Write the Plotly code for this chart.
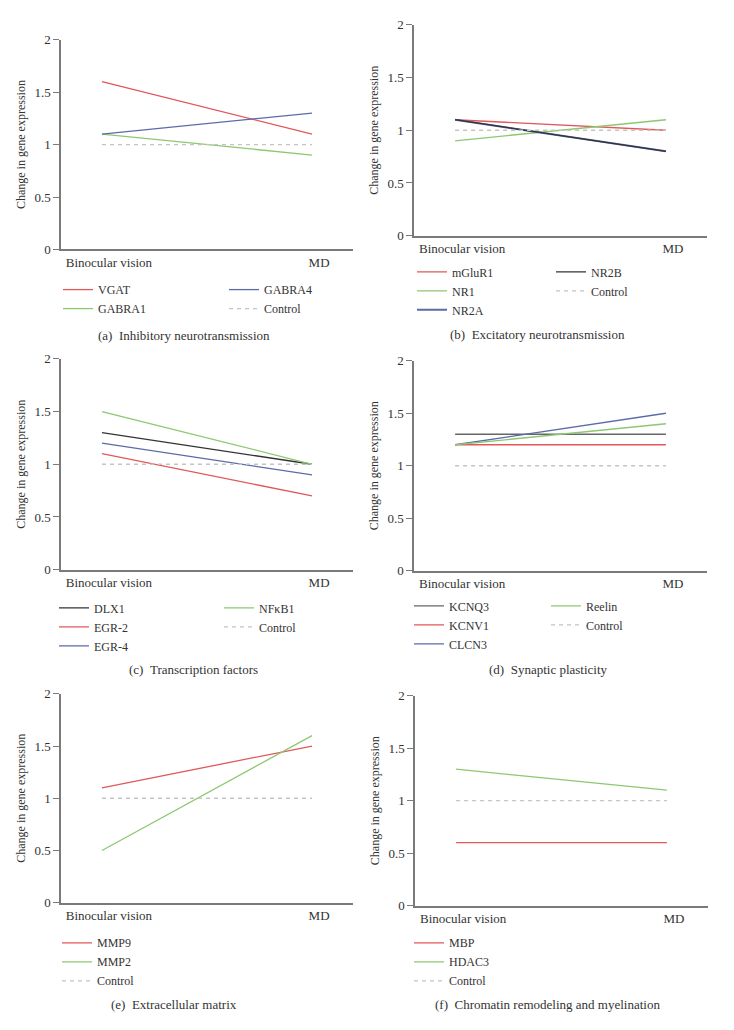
import plotly.graph_objects as go

# page body has an 8px margin; work in reference-pixel coordinates and shift
OX, OY = 8, 8
W, H = 718, 1014

categories = ["Binocular vision", "MD"]

RED = "#e2575a"
GREEN = "#8cc870"
BLUE = "#5c6aa8"
BLACK = "#333333"
GRAY = "#666666"
CTRL = "#c4c4c4"

# panel data: (name, values, color, legend column)
panel_a = [("VGAT", [1.6, 1.1], RED, 1), ("GABRA1", [1.1, 0.9], GREEN, 1),
           ("GABRA4", [1.1, 1.3], BLUE, 2), ("Control", [1.0, 1.0], CTRL, 2)]
panel_b = [("mGluR1", [1.1, 1.0], RED, 1), ("NR1", [0.9, 1.1], GREEN, 1),
           ("NR2A", [1.1, 0.8], BLUE, 1), ("NR2B", [1.1, 0.8], BLACK, 2),
           ("Control", [1.0, 1.0], CTRL, 2)]
panel_c = [("DLX1", [1.3, 1.0], BLACK, 1), ("EGR-2", [1.1, 0.7], RED, 1),
           ("EGR-4", [1.2, 0.9], BLUE, 1), ("NFκB1", [1.5, 1.0], GREEN, 2),
           ("Control", [1.0, 1.0], CTRL, 2)]
panel_d = [("KCNQ3", [1.3, 1.3], GRAY, 1), ("KCNV1", [1.2, 1.2], RED, 1),
           ("CLCN3", [1.2, 1.5], BLUE, 1), ("Reelin", [1.2, 1.4], GREEN, 2),
           ("Control", [1.0, 1.0], CTRL, 2)]
panel_e = [("MMP9", [1.1, 1.5], RED, 1), ("MMP2", [0.5, 1.6], GREEN, 1),
           ("Control", [1.0, 1.0], CTRL, 1)]
panel_f = [("MBP", [0.6, 0.6], RED, 1), ("HDAC3", [1.3, 1.1], GREEN, 1),
           ("Control", [1.0, 1.0], CTRL, 1)]

captions = ["(a)\u2002Inhibitory neurotransmission",
            "(b)\u2002Excitatory neurotransmission",
            "(c)\u2002Transcription factors",
            "(d)\u2002Synaptic plasticity",
            "(e)\u2002Extracellular matrix",
            "(f)\u2002Chromatin remodeling and myelination"]

y_ticks = [0, 0.5, 1, 1.5, 2]
y_ticktext = ["0", "0.5", "1", "1.5", "2"]

# geometry in reference pixels: axis x-left/right, y-top(val 2)/bottom(val 0),
# legend column (x of swatch start, y of first row centre), caption centre
geom = [
    dict(x0=61, x1=353, yt=33, yb=246, leg=[(64, 289), (230, 289)], cap=(184, 333)),
    dict(x0=414, x1=707, yt=18, yb=232, leg=[(418, 271), (557, 271)], cap=(537, 332)),
    dict(x0=61, x1=353, yt=357, yb=571, leg=[(60, 612), (225, 612)], cap=(194, 672)),
    dict(x0=414, x1=707, yt=359, yb=572, leg=[(415, 610), (552, 610)], cap=(548, 672)),
    dict(x0=61, x1=353, yt=697, yb=909, leg=[(63, 952)], cap=(174, 1012)),
    dict(x0=415, x1=708, yt=699, yb=912, leg=[(415, 952)], cap=(547, 1012)),
]
panels = [panel_a, panel_b, panel_c, panel_d, panel_e, panel_f]


def px(x):
    return (x - OX) / W


def py(y):
    return 1 - (y - OY) / H


FONT = "Liberation Serif"
TXT = "#333333"
fig = go.Figure()
layout = dict(width=W, height=H, margin=dict(l=0, r=0, t=0, b=0),
              paper_bgcolor="white", plot_bgcolor="white",
              font=dict(family=FONT, size=12, color=TXT),
              showlegend=True)
annotations = []
legend_count = 0
for i, (panel, g) in enumerate(zip(panels, geom)):
    n = i + 1
    xa = "xaxis" if n == 1 else f"xaxis{n}"
    ya = "yaxis" if n == 1 else f"yaxis{n}"
    xref = "x" if n == 1 else f"x{n}"
    yref = "y" if n == 1 else f"y{n}"
    layout[xa] = dict(domain=[px(g["x0"]), px(g["x1"])], anchor=yref,
                      type="category", range=[-0.195, 1.195],
                      showline=True, linecolor="#7a7a7a", linewidth=1.5,
                      showgrid=False, zeroline=False, ticks="",
                      ticklabelshift=7,
                      tickfont=dict(size=13, family=FONT, color=TXT),
                      fixedrange=True)
    layout[ya] = dict(domain=[py(g["yb"]), py(g["yt"])], anchor=xref,
                      range=[0, 2], tickvals=y_ticks, ticktext=y_ticktext,
                      showline=True, linecolor="#7a7a7a", linewidth=1.5,
                      showgrid=False, zeroline=False, ticks="outside",
                      ticklen=6, tickcolor="#7a7a7a", tickwidth=1.2,
                      tickfont=dict(size=13, family=FONT, color=TXT),
                      title=dict(text="Change in gene expression",
                                 font=dict(size=12, family=FONT, color=TXT),
                                 standoff=6),
                      fixedrange=True)
    cols = sorted(set(c for _, _, _, c in panel))
    leg_ids = {}
    for ci, col in enumerate(cols):
        legend_count += 1
        lid = "legend" if legend_count == 1 else f"legend{legend_count}"
        leg_ids[col] = lid
        lx, ly = g["leg"][ci]
        layout[lid] = dict(x=px(lx - 6), y=py(ly - 17), xanchor="left", yanchor="top",
                           bgcolor="rgba(0,0,0,0)", borderwidth=0,
                           font=dict(size=12, family=FONT, color=TXT),
                           tracegroupgap=0, itemwidth=30)
    for name, vals, color, col in panel:
        is_ctrl = name == "Control"
        width = 2.0 if name == "NR2A" else 1.3
        fig.add_trace(go.Scatter(
            x=categories, y=vals, mode="lines", name=name,
            line=dict(color=color, width=width, dash="4px,4px" if is_ctrl else "solid"),
            xaxis=xref, yaxis=yref, legend=leg_ids[col], hoverinfo="skip"))
    cx, cy = g["cap"]
    annotations.append(dict(text=captions[i], x=px(cx), y=py(cy),
                            xref="paper", yref="paper", showarrow=False,
                            xanchor="center", yanchor="middle",
                            font=dict(size=13, family=FONT, color=TXT)))
layout["annotations"] = annotations
fig.update_layout(**layout)
fig.write_html("out.html")
